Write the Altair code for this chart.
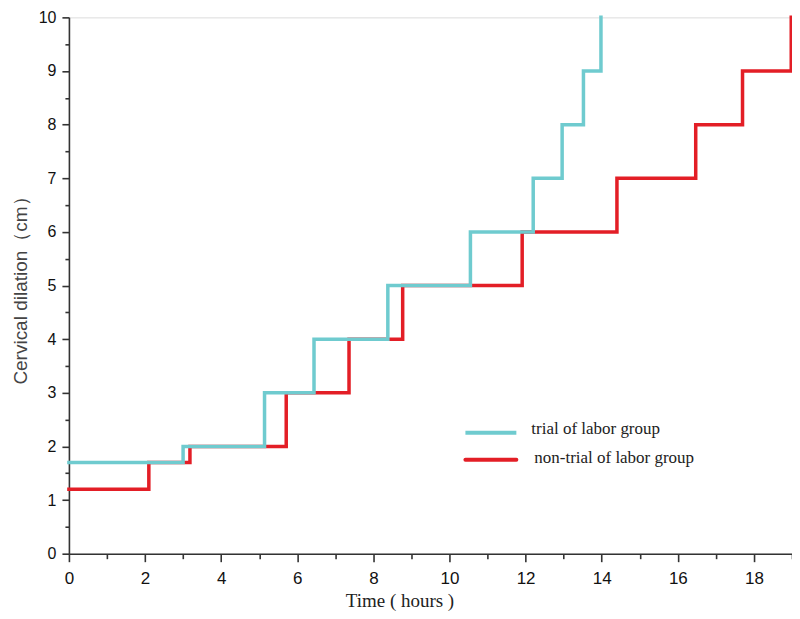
import altair as alt
import pandas as pd

# Data (step changes)
trial_time = [0, 3.00, 5.14, 6.44, 8.38, 10.55, 12.20, 12.96, 13.52, 13.98]
trial_dil = [1.7, 2, 3, 4, 5, 6, 7, 8, 9, 10]
non_time = [0, 2.10, 3.18, 5.71, 7.36, 8.77, 11.91, 14.40, 16.47, 17.70, 18.98]
non_dil = [1.2, 1.7, 2, 3, 4, 5, 6, 7, 8, 9, 10]

groups = ["trial of labor group", "non-trial of labor group"]
colors = ["#6FCBCF", "#E31E26"]

df_trial = pd.DataFrame({"t": trial_time, "d": trial_dil, "g": groups[0]})
df_non = pd.DataFrame({"t": non_time, "d": non_dil, "g": groups[1]})

W, H = 724, 537

x_scale = alt.Scale(domain=[0, 19], nice=False, zero=False)
y_scale = alt.Scale(domain=[0, 10], nice=False)

x_axis = alt.Axis(
    values=list(range(0, 20)),
    labelExpr="datum.value % 2 === 0 ? format(datum.value, 'd') : ''",
    tickSize={"condition": {"test": "datum.value % 2 === 0", "value": 8}, "value": 5},
    labelPadding=9, labelFlush=False,
    labelFont="Liberation Sans", labelFontSize=17, labelColor="#111",
    domainColor="#333", domainWidth=1.6, tickColor="#333", tickWidth=1.6,
    grid=False, title="Time ( hours )", titleFont="Liberation Serif",
    titleFontSize=19, titleFontWeight="normal", titleColor="#222",
    titleX=331, titleY=47, titleBaseline="middle", titleAlign="center",
)
y_axis = alt.Axis(
    values=[i * 0.5 for i in range(0, 21)],
    labelExpr="datum.value % 1 === 0 ? format(datum.value, 'd') : ''",
    tickSize={"condition": {"test": "datum.value % 1 === 0", "value": 7}, "value": 4},
    labelPadding=6, labelFlush=False,
    labelFont="Liberation Sans", labelFontSize=16, labelColor="#111",
    domainColor="#333", domainWidth=1.6, tickColor="#333", tickWidth=1.6,
    grid=False, title="Cervical dilation（cm）", titleFont="Liberation Sans",
    titleFontSize=19, titleFontWeight="normal", titleColor="#444",
    titleX=-48, titleY=H / 2, titleAngle=-90, titleBaseline="middle", titleAlign="center",
)

def step(df, color):
    return alt.Chart(df).mark_line(
        interpolate="step-after", color=color, strokeWidth=3.5, strokeJoin="miter", strokeCap="square"
    ).encode(
        x=alt.X("t:Q", scale=x_scale, axis=x_axis),
        y=alt.Y("d:Q", scale=y_scale, axis=y_axis),
    )

red_line = step(df_non, colors[1])
teal_line = step(df_trial, colors[0])

# Manual legend
leg_rule_t = alt.Chart(pd.DataFrame({"g": [groups[0]]})).mark_rule(
    color=colors[0], strokeWidth=4).encode(x=alt.value(397), x2=alt.value(448), y=alt.value(416))
leg_rule_n = alt.Chart(pd.DataFrame({"g": [groups[1]]})).mark_rule(
    color=colors[1], strokeWidth=4, strokeCap="round").encode(x=alt.value(397), x2=alt.value(448), y=alt.value(443))
leg_text_t = alt.Chart(pd.DataFrame({"g": [groups[0]]})).mark_text(
    align="left", baseline="middle", font="Liberation Serif", fontSize=17, color="#222").encode(
    x=alt.value(463), y=alt.value(412), text="g:N")
leg_text_n = alt.Chart(pd.DataFrame({"g": [groups[1]]})).mark_text(
    align="left", baseline="middle", font="Liberation Serif", fontSize=17, color="#222").encode(
    x=alt.value(466), y=alt.value(441), text="g:N")

chart = alt.layer(red_line, teal_line, leg_rule_t, leg_rule_n, leg_text_t, leg_text_n).properties(
    width=W, height=H,
    autosize=alt.AutoSizeParams(type="none"),
    padding={"left": 61, "top": 9, "right": 0, "bottom": 57},
).configure_view(stroke=None).configure(background="white")

chart.save("out.html", embed_options={"renderer": "svg", "actions": False})
